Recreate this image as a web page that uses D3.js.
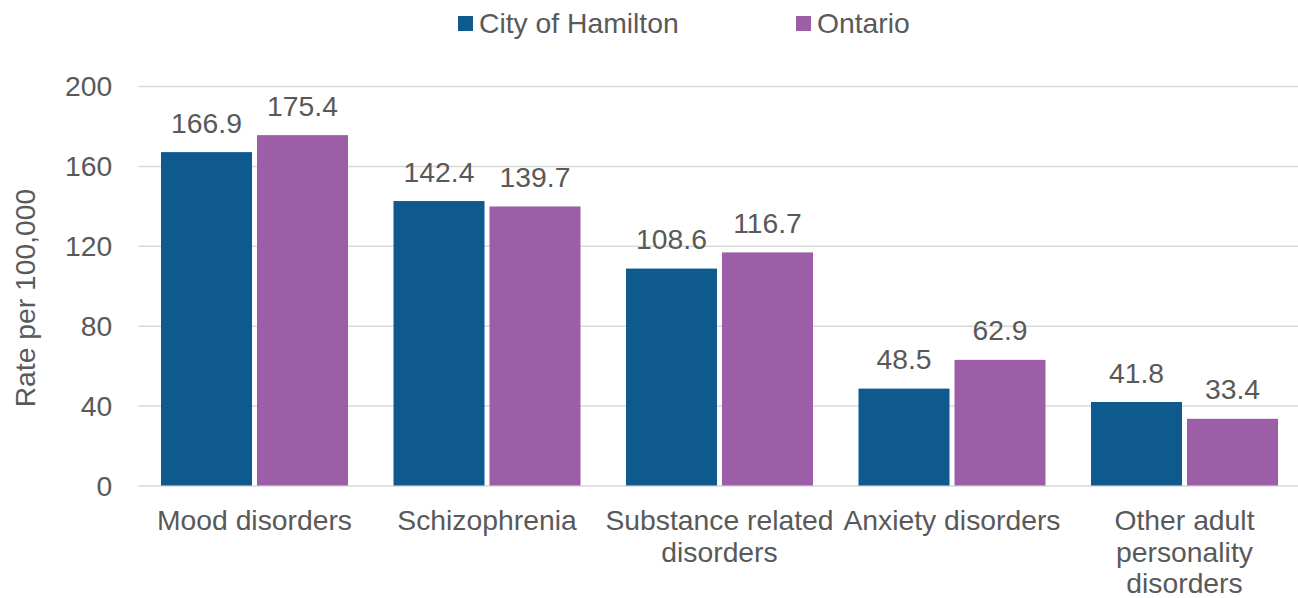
<!DOCTYPE html>
<html><head><meta charset="utf-8">
<script src="https://cdn.jsdelivr.net/npm/d3@7"></script>
<style>body{margin:0;background:#fff}svg{display:block}text{font-family:"Liberation Sans",Arial,sans-serif;fill:#595959}</style>
</head><body>
<svg id="c" width="1298" height="598"></svg>
<script>
const categories = ["Mood disorders","Schizophrenia","Substance related disorders","Anxiety disorders","Other adult personality disorders"];
const seriesNames = ["City of Hamilton","Ontario"];
const hamilton = [166.9,142.4,108.6,48.5,41.8];
const ontario = [175.4,139.7,116.7,62.9,33.4];
const yTicks = [0,40,80,120,160,200];
const colors = ["#0E5A8F","#9C5FA7"];
const yTitle = "Rate per 100,000";

const svg = d3.select("#c");
const pL = 138.25, pR = 1300.75, pT = 86, pB = 485.5;
const FS = 28.3;
const x0 = d3.scaleBand().domain(categories).range([pL,pR]).padding(0);
const bw = x0.bandwidth();
const x1 = d3.scaleBand().domain(seriesNames).range([22.75, bw-22.75]).paddingInner(0.052);
const y = d3.scaleLinear().domain([0,200]).range([pB, pT]);

// gridlines
const yAxis = d3.axisLeft(y).tickValues(yTicks).tickSize(-(pR-pL)).tickPadding(26).tickFormat(d3.format("d"));
const g = svg.append("g").attr("transform",`translate(${pL},0)`).call(yAxis);
g.select(".domain").remove();
g.selectAll(".tick line").attr("stroke","#D9D9D9").attr("stroke-width",1.5);
g.selectAll(".tick text").attr("font-size",FS).attr("fill","#595959").attr("dy","0.35em").style("font-family","Liberation Sans, Arial, sans-serif");

const data = categories.map((c,i)=>({c, vals:[hamilton[i],ontario[i]]}));
const grp = svg.append("g").selectAll("g").data(data).join("g").attr("transform",d=>`translate(${x0(d.c)},0)`);
grp.selectAll("rect").data(d=>d.vals.map((v,j)=>({v,s:seriesNames[j],j}))).join("rect")
  .attr("x",d=>x1(d.s)).attr("width",x1.bandwidth())
  .attr("y",d=>y(d.v)).attr("height",d=>y(0)-y(d.v))
  .attr("fill",d=>colors[d.j]);
grp.selectAll("text.lbl").data(d=>d.vals.map((v,j)=>({v,s:seriesNames[j],j}))).join("text").attr("class","lbl")
  .attr("x",d=>x1(d.s)+x1.bandwidth()/2).attr("y",d=>y(d.v)-19.5)
  .attr("text-anchor","middle").attr("font-size",FS).text(d=>d3.format(".1f")(d.v));

// category labels with wrapping
const xg = svg.append("g");
categories.forEach(c=>{
  const cx = x0(c)+bw/2;
  const t = xg.append("text").attr("x",cx).attr("y",530).attr("text-anchor","middle").attr("font-size",FS);
  const words = c.split(" ");
  let line = [];
  let ts = t.append("tspan").attr("x",cx).attr("dy",0);
  words.forEach(w=>{
    line.push(w); ts.text(line.join(" "));
    if (ts.node().getComputedTextLength() > bw-2 && line.length>1){
      line.pop(); ts.text(line.join(" ")); line=[w];
      ts = t.append("tspan").attr("x",cx).attr("dy",31.5).text(w);
    }
  });
});

// y title
svg.append("text").attr("transform","translate(35,298) rotate(-90)").attr("text-anchor","middle").attr("font-size",FS).text(yTitle);

// legend
const legX = [458,796];
seriesNames.forEach((s,i)=>{
  svg.append("rect").attr("x",legX[i]).attr("y",16).attr("width",15).attr("height",15).attr("fill",colors[i]);
  svg.append("text").attr("x",legX[i]+21).attr("y",33).attr("font-size",FS).text(s);
});
</script>
</body></html>
